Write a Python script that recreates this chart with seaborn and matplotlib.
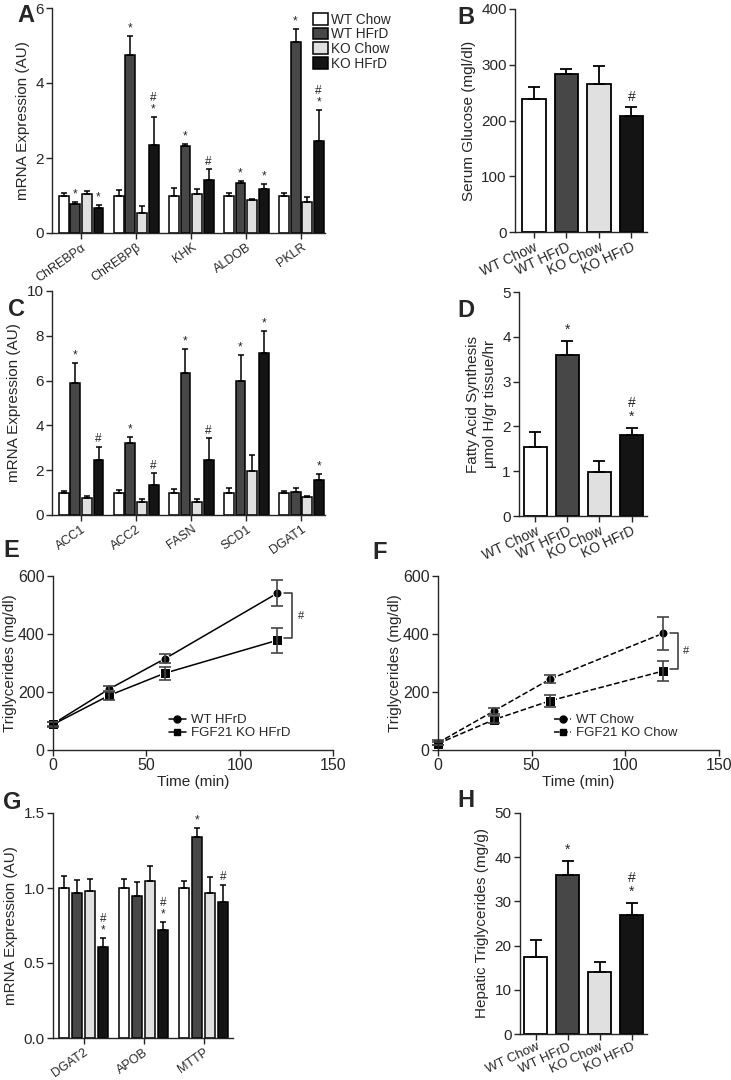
import numpy as np
import pandas as pd
import matplotlib
matplotlib.use("Agg")
import matplotlib.pyplot as plt
import seaborn as sns

sns.set_style("ticks")
plt.rcParams["font.family"] = ["Liberation Sans", "DejaVu Sans"]

groups = ["WT Chow", "WT HFrD", "KO Chow", "KO HFrD"]
colors = ["#ffffff", "#474747", "#e0e0e0", "#141414"]

# panel A
genes_a = ["ChREBPα", "ChREBPβ", "KHK", "ALDOB", "PKLR"]
mean_a = [[1.0, 1.0, 1.0, 1.0, 1.0],
          [0.78, 4.75, 2.33, 1.33, 5.1],
          [1.05, 0.53, 1.03, 0.87, 0.82],
          [0.68, 2.35, 1.42, 1.18, 2.45]]
err_a = [[0.07, 0.15, 0.2, 0.08, 0.08],
         [0.05, 0.5, 0.05, 0.06, 0.35],
         [0.06, 0.18, 0.15, 0.04, 0.13],
         [0.06, 0.75, 0.28, 0.13, 0.82]]
mark_a = [["", "", "", "", ""],
          ["*", "*", "*", "*", "*"],
          ["", "", "", "", ""],
          ["*", "#\n*", "#", "*", "#\n*"]]

# panel B
mean_b = [238, 283, 266, 208]
err_b = [22, 9, 32, 17]
mark_b = ["", "", "", "#"]

# panel C
genes_c = ["ACC1", "ACC2", "FASN", "SCD1", "DGAT1"]
mean_c = [[1.0, 1.0, 1.0, 1.0, 1.0],
          [5.9, 3.2, 6.35, 6.0, 1.02],
          [0.78, 0.6, 0.6, 1.95, 0.8],
          [2.45, 1.35, 2.45, 7.25, 1.55]]
err_c = [[0.08, 0.12, 0.15, 0.2, 0.08],
         [0.9, 0.28, 1.05, 1.15, 0.2],
         [0.06, 0.12, 0.1, 0.72, 0.04],
         [0.6, 0.52, 0.97, 0.95, 0.3]]
mark_c = [["", "", "", "", ""],
          ["*", "*", "*", "*", ""],
          ["", "", "", "", ""],
          ["#", "#", "#", "*", "*"]]

# panel D
mean_d = [1.55, 3.6, 0.98, 1.8]
err_d = [0.33, 0.3, 0.24, 0.16]
mark_d = ["", "*", "", "#\n*"]

# panels E, F
time = [0, 30, 60, 120]
wt_hfrd = [90, 210, 315, 540]
wt_hfrd_err = [8, 10, 15, 45]
ko_hfrd = [88, 188, 265, 378]
ko_hfrd_err = [8, 15, 22, 42]
wt_chow = [25, 135, 245, 402]
wt_chow_err = [8, 10, 15, 58]
ko_chow = [22, 105, 170, 272]
ko_chow_err = [5, 12, 20, 35]

# panel G
genes_g = ["DGAT2", "APOB", "MTTP"]
mean_g = [[1.0, 1.0, 1.0],
          [0.965, 0.945, 1.34],
          [0.98, 1.045, 0.965],
          [0.61, 0.72, 0.91]]
err_g = [[0.08, 0.06, 0.045],
         [0.09, 0.095, 0.06],
         [0.08, 0.1, 0.11],
         [0.055, 0.055, 0.11]]
mark_g = [["", "", ""],
          ["", "", "*"],
          ["", "", ""],
          ["#\n*", "#\n*", "#"]]

# panel H
mean_h = [17.5, 36, 14, 27]
err_h = [3.8, 3.2, 2.4, 2.7]
mark_h = ["", "*", "", "#\n*"]

W, H = 731, 1080
fig = plt.figure(figsize=(W / 100, H / 100), dpi=100)


def add_ax(left, top, right, bottom):
    return fig.add_axes([left / W, 1 - bottom / H, (right - left) / W, (bottom - top) / H])


def style(ax):
    sns.despine(ax=ax)
    for s in ["left", "bottom"]:
        ax.spines[s].set_linewidth(1.0)
    ax.tick_params(direction="out", length=4, width=1.0, labelsize=11, pad=2)


def put_mark(ax, x, y, txt, size, pad):
    if txt:
        ax.text(x, y + pad, txt, ha="center", va="bottom", fontsize=size, linespacing=0.95)


def grouped_panel(ax, genes, means, errs, marks, ylim, yticks, ylabel, width, gap, pad, rot):
    rows = []
    for g, vals in zip(groups, means):
        for gene, v in zip(genes, vals):
            rows.append({"gene": gene, "group": g, "value": v})
    df = pd.DataFrame(rows)
    sns.barplot(data=df, x="gene", y="value", hue="group", hue_order=groups,
                palette=colors, edgecolor="black", linewidth=1.1, width=width,
                gap=gap, errorbar=None, legend=False, ax=ax)
    for cont, err, mk in zip(ax.containers, errs, marks):
        for bar, e, m in zip(cont, err, mk):
            x = bar.get_x() + bar.get_width() / 2
            h = bar.get_height()
            ax.errorbar(x, h, yerr=[[0], [e]], fmt="none", ecolor="black",
                        elinewidth=1.1, capsize=2.2, capthick=1.1)
            put_mark(ax, x, h + e, m, 8.5, pad)
    ax.set_ylim(*ylim)
    ax.set_yticks(yticks)
    ax.set_xlabel("")
    ax.set_ylabel(ylabel, fontsize=11)
    style(ax)
    plt.setp(ax.get_xticklabels(), rotation=rot, ha="right", rotation_mode="anchor", fontsize=9)


def simple_panel(ax, means, errs, marks, ylim, yticks, ylabel, pad):
    df = pd.DataFrame({"group": groups, "value": means})
    sns.barplot(data=df, x="group", y="value", hue="group", palette=colors,
                edgecolor="black", linewidth=1.3, width=0.72, errorbar=None,
                legend=False, ax=ax)
    for bar, e, m in zip(ax.patches, errs, marks):
        x = bar.get_x() + bar.get_width() / 2
        h = bar.get_height()
        ax.errorbar(x, h, yerr=[[0], [e]], fmt="none", ecolor="black",
                    elinewidth=1.3, capsize=4.5, capthick=1.3)
        put_mark(ax, x, h + e, m, 10, pad)
    ax.set_ylim(*ylim)
    ax.set_yticks(yticks)
    ax.set_xlim(-0.58, 3.48)
    ax.set_xlabel("")
    ax.set_ylabel(ylabel, fontsize=11)
    style(ax)
    plt.setp(ax.get_xticklabels(), rotation=25, ha="right", rotation_mode="anchor", fontsize=10)


def line_panel(ax, a, a_err, b, b_err, labels, ls):
    df = pd.DataFrame({"time": time * 2, "tg": a + b,
                       "grp": [labels[0]] * len(time) + [labels[1]] * len(time)})
    sns.lineplot(data=df, x="time", y="tg", hue="grp", style="grp",
                 markers={labels[0]: "o", labels[1]: "s"}, dashes=False,
                 palette=["black", "black"], linewidth=1.1, markersize=6.5,
                 ax=ax, legend=False)
    for line in ax.lines:
        line.set_linestyle(ls)
    for vals, errs in ((a, a_err), (b, b_err)):
        ax.errorbar(time, vals, yerr=errs, fmt="none", ecolor="#444444",
                    elinewidth=1.2, capsize=4, capthick=1.2)
    h1 = plt.Line2D([], [], color="black", marker="o", markersize=5, linestyle=ls, lw=1.1)
    h2 = plt.Line2D([], [], color="black", marker="s", markersize=5, linestyle=ls, lw=1.1)
    ax.legend([h1, h2], labels, loc="upper left", bbox_to_anchor=(0.38, 0.26),
              frameon=False, fontsize=9.5, handlelength=1.3, handletextpad=0.4,
              labelspacing=0.05, borderpad=0.2)
    # bracket between the last two points
    xb = time[-1] + 8
    top, bot = a[-1], b[-1] + 8
    ax.plot([xb - 4, xb, xb, xb - 4], [top, top, bot, bot], color="#333333", lw=1.1)
    ax.text(xb + 3, (top + bot) / 2, "#", fontsize=8, va="center", ha="left")
    ax.set_xlim(0, 150)
    ax.set_ylim(0, 600)
    ax.set_xticks([0, 50, 100, 150])
    ax.set_yticks([0, 200, 400, 600])
    ax.set_xlabel("Time (min)", fontsize=11, labelpad=1)
    ax.set_ylabel("Triglycerides (mg/dl)", fontsize=11, labelpad=1)
    style(ax)
    ax.tick_params(labelsize=11.5)
    for l in ax.lines:
        l.set_clip_on(False)


axA = add_ax(52, 8, 325, 233)
grouped_panel(axA, genes_a, mean_a, err_a, mark_a, (0, 6), [0, 2, 4, 6],
              "mRNA Expression (AU)", 0.84, 0.14, 0.04, 35)
axA.set_xlim(-0.53, 4.43)
leg_handles = [plt.Rectangle((0, 0), 1, 1, facecolor=c, edgecolor="black", lw=1.1) for c in colors]
axA.legend(leg_handles, groups, loc="upper left", bbox_to_anchor=(0.955, 0.98), frameon=False,
           fontsize=9.8, handlelength=1.1, handleheight=0.95, handletextpad=0.25,
           labelspacing=0.05, borderpad=0, borderaxespad=0)

axB = add_ax(515, 9, 647, 232)
simple_panel(axB, mean_b, err_b, mark_b, (0, 400), [0, 100, 200, 300, 400],
             "Serum Glucose (mgl/dl)", 5)

axC = add_ax(52, 291, 325, 515)
grouped_panel(axC, genes_c, mean_c, err_c, mark_c, (0, 10), [0, 2, 4, 6, 8, 10],
              "mRNA Expression (AU)", 0.84, 0.14, 0.07, 35)
axC.set_xlim(-0.53, 4.43)

axD = add_ax(519, 292, 647, 516)
simple_panel(axD, mean_d, err_d, mark_d, (0, 5), [0, 1, 2, 3, 4, 5],
             "Fatty Acid Synthesis\nμmol H/gr tissue/hr", 0.1)
axD.set_xlim(-0.5, 3.48)

axE = add_ax(53, 576, 333, 750)
line_panel(axE, wt_hfrd, wt_hfrd_err, ko_hfrd, ko_hfrd_err, ["WT HFrD", "FGF21 KO HFrD"], "-")

axF = add_ax(438, 576, 719, 750)
line_panel(axF, wt_chow, wt_chow_err, ko_chow, ko_chow_err, ["WT Chow", "FGF21 KO Chow"], "--")

axG = add_ax(53, 813, 233, 1038)
grouped_panel(axG, genes_g, mean_g, err_g, mark_g, (0, 1.5), [0, 0.5, 1.0, 1.5],
              "mRNA Expression (AU)", 0.87, 0.23, 0.01, 35)
axG.set_xlim(-0.51, 2.49)
axG.set_yticklabels(["0.0", "0.5", "1.0", "1.5"])

axH = add_ax(520, 813, 647, 1034)
simple_panel(axH, mean_h, err_h, mark_h, (0, 50), [0, 10, 20, 30, 40, 50],
             "Hepatic Triglycerides (mg/g)", 1)
axH.set_xlim(-0.5, 3.48)
axH.tick_params(axis="x", pad=1)
plt.setp(axH.get_xticklabels(), fontsize=9.5)

letters = {"A": (17, 4), "B": (457, 6), "C": (8, 298), "D": (457, 299),
           "E": (3, 539), "F": (372, 541), "G": (3, 791), "H": (457, 789)}
for k, (x, y) in letters.items():
    fig.text(x / W, 1 - y / H, k, fontsize=17, fontweight="bold", ha="left", va="top")

fig.savefig("out.png", dpi=100)
